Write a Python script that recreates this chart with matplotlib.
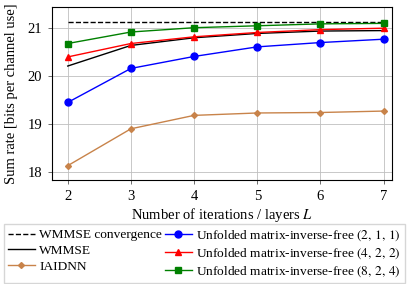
import numpy as np
import matplotlib.pyplot as plt

# layers / iterations
L = [2, 3, 4, 5, 6, 7]

wmmse_conv = [21.13] * 6
wmmse = [20.21, 20.64, 20.80, 20.89, 20.94, 20.95]
iaidnn = [18.13, 18.90, 19.18, 19.23, 19.24, 19.27]
uf_211 = [19.45, 20.16, 20.41, 20.61, 20.70, 20.77]
uf_422 = [20.40, 20.68, 20.82, 20.91, 20.97, 21.00]
uf_824 = [20.68, 20.92, 21.01, 21.05, 21.09, 21.10]

plt.rcParams['font.family'] = ['Liberation Serif', 'DejaVu Serif']
plt.rcParams['mathtext.fontset'] = 'stix'
plt.rcParams['font.size'] = 10

fig = plt.figure(figsize=(4.09, 2.84), dpi=100)
ax = fig.add_axes([0.127, 0.366, 0.831, 0.609])

h1, = ax.plot(L, wmmse_conv, 'k--', lw=1, label='WMMSE convergence')
h2, = ax.plot(L, wmmse, 'k-', lw=1, label='WMMSE')
h3, = ax.plot(L, iaidnn, '-', color='#c8834a', marker='D', ms=3, lw=1, label='IAIDNN')
h4, = ax.plot(L, uf_211, 'b-', marker='o', ms=5, lw=1,
              label=r'Unfolded matrix-inverse-free $(2,\,1,\,1)$')
h5, = ax.plot(L, uf_422, 'r-', marker='^', ms=5, lw=1,
              label=r'Unfolded matrix-inverse-free $(4,\,2,\,2)$')
h6, = ax.plot(L, uf_824, '-', color='#008000', marker='s', ms=4, lw=1,
              label=r'Unfolded matrix-inverse-free $(8,\,2,\,4)$')

ax.set_xlim(1.75, 7.13)
ax.set_ylim(17.83, 21.44)
ax.set_xticks(L)
ax.set_yticks([18, 19, 20, 21])
ax.grid(True, color='#bfbfbf', lw=0.6)
ax.tick_params(direction='out', length=3, width=0.6, color='#555555', pad=4, labelsize=10.5)
ax.set_xlabel(r'Number of iterations / layers $L$', labelpad=2, fontsize=10.5)
ax.set_ylabel('Sum rate [bits per channel use]', labelpad=7, fontsize=10.5)

fig.legend(handles=[h1, h2, h3, h4, h5, h6], ncol=2, loc='lower center',
           bbox_to_anchor=(0.5, 0.0), fontsize=9.6, frameon=True, fancybox=False,
           edgecolor='#cccccc', handlelength=2.0, handletextpad=0.35,
           columnspacing=0.2, borderaxespad=0.1, labelspacing=0.25,
           borderpad=0.3)

fig.savefig('out.png', dpi=100)
